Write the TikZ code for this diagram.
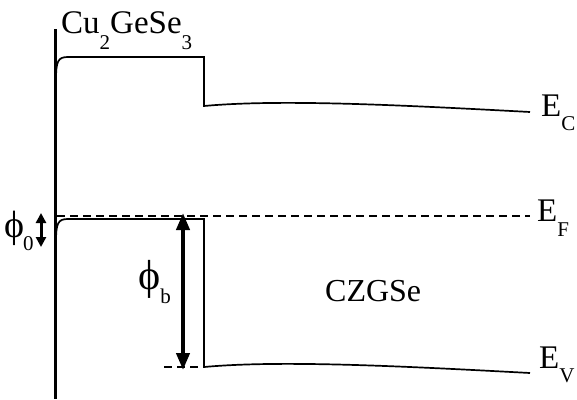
\documentclass[tikz,border=0pt]{standalone}
\usepackage{fontspec}
\setmainfont{Liberation Serif}
\usetikzlibrary{arrows.meta}
\newcommand\lowsub[2][14pt]{\raisebox{-#1}{\fontsize{21}{21}\selectfont #2}}
\begin{document}
\begin{tikzpicture}[x=1pt,y=-1pt,
  band/.style={line width=1.7pt},
  fermi/.style={line width=1.4pt,dash pattern=on 8pt off 5pt},
  axisline/.style={line width=3.2pt},
  dblarrow/.style={line width=4pt,{Triangle[length=17pt,width=13pt]}-{Triangle[length=17pt,width=13pt]}},
  smallarrow/.style={line width=3pt,{Triangle[length=10pt,width=10pt]}-{Triangle[length=10pt,width=10pt]}},
  lbl/.style={inner sep=0pt,font=\fontsize{33}{33}\selectfont}]
\useasboundingbox (0,0) rectangle (577,399);
% axis
\coordinate (axtop) at (55.5,29);
\coordinate (axbot) at (55.5,399);
\draw[axisline] (axtop) -- (axbot);
% coordinates
\coordinate (cb0) at (56,80);
\coordinate (cb1) at (68,57);
\coordinate (cb2) at (204,57);
\coordinate (cb3) at (204,106);
\coordinate (cb4) at (530,112);
\coordinate (vb0) at (56,242);
\coordinate (vb1) at (68,219);
\coordinate (vb2) at (204,219);
\coordinate (vb3) at (204,367);
\coordinate (vb4) at (530,373);
\coordinate (ef0) at (57,216);
\coordinate (ef1) at (530,216);
\coordinate (dl0) at (164,367);
\coordinate (dl1) at (203,367);
% conduction band
\draw[band,line join=miter] (cb0) .. controls (56,61) and (58,57) .. (cb1) -- (cb2) -- (cb3)
  .. controls (280,99) and (400,105) .. (cb4);
% valence band
\draw[band,line join=miter] (vb0) .. controls (56,223) and (58,219) .. (vb1) -- (vb2) -- (vb3)
  .. controls (280,360) and (400,366) .. (vb4);
% Fermi level
\draw[fermi] (ef0) -- (ef1);
\draw[fermi] (dl0) -- (dl1);
% arrows
\coordinate (pbt) at (183,213);
\coordinate (pbb) at (183,370);
\draw[dblarrow] (pbt) -- (pbb);
\coordinate (p0t) at (41,213);
\coordinate (p0b) at (41,247);
\draw[smallarrow] (p0t) -- (p0b);
% labels
\node[lbl,anchor=base west] (cu) at (61,33) {Cu\lowsub[16pt]{2}GeSe\lowsub[16pt]{3}};
\node[lbl,anchor=base west] (ec) at (541,116) {E\lowsub{C}};
\node[lbl,anchor=base west] (ef) at (537,221) {E\lowsub[15pt]{F}};
\node[lbl,anchor=base west] (ev) at (539,368) {E\lowsub{V}};
\node[lbl,anchor=base west] (czgse) at (325,301) {\fontsize{32}{32}\selectfont CZGSe};
\node[lbl,anchor=west] (phib) at (138,282) {\fontsize{42}{42}\selectfont ϕ\lowsub[14pt]{b}};
\node[lbl,anchor=west] (phi0) at (4,231) {\fontsize{38}{38}\selectfont ϕ\kern-1pt\lowsub[13pt]{0}};
\end{tikzpicture}
\end{document}
